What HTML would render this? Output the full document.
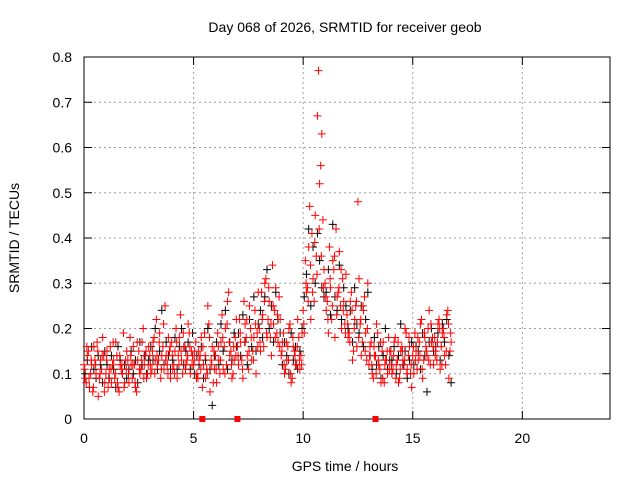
<!DOCTYPE html>
<html><head><meta charset="utf-8"><style>
body{margin:0;background:#fff;}
svg{display:block;font-family:"Liberation Sans",sans-serif;}
</style></head><body>
<svg id="chart" width="640" height="480">
<rect width="640" height="480" fill="#fff"/>
<g id="grid"></g>
<g id="axes"></g>
<g id="black"></g>
<g id="red"></g>
<text x="345" y="32" text-anchor="middle" font-size="14">Day 068 of 2026, SRMTID for receiver geob</text>
<text x="345" y="471" text-anchor="middle" font-size="14">GPS time / hours</text>
<text transform="translate(19,238) rotate(-90)" text-anchor="middle" font-size="14">SRMTID / TECUs</text>
</svg>
<script>
const xTicks=[0,5,10,15,20];
const yTicks=[0,0.1,0.2,0.3,0.4,0.5,0.6,0.7,0.8];
const yTickLabels=["0","0.1","0.2","0.3","0.4","0.5","0.6","0.7","0.8"];
const times=[0,0.1,0.2,0.3,0.4,0.5,0.6,0.7,0.8,0.9,1,1.1,1.2,1.3,1.4,1.5,1.6,1.7,1.8,1.9,2,2.1,2.2,2.3,2.4,2.5,2.6,2.7,2.8,2.9,3,3.1,3.2,3.3,3.4,3.5,3.6,3.7,3.8,3.9,4,4.1,4.2,4.3,4.4,4.5,4.6,4.7,4.8,4.9,5,5.1,5.2,5.3,5.4,5.5,5.6,5.7,5.8,5.9,6,6.1,6.2,6.3,6.4,6.5,6.6,6.7,6.8,6.9,7,7.1,7.2,7.3,7.4,7.5,7.6,7.7,7.8,7.9,8,8.1,8.2,8.3,8.4,8.5,8.6,8.7,8.8,8.9,9,9.1,9.2,9.3,9.4,9.5,9.6,9.7,9.8,9.9,10,10.1,10.2,10.3,10.4,10.5,10.6,10.7,10.8,10.9,11,11.1,11.2,11.3,11.4,11.5,11.6,11.7,11.8,11.9,12,12.1,12.2,12.3,12.4,12.5,12.6,12.7,12.8,12.9,13,13.1,13.2,13.3,13.4,13.5,13.6,13.7,13.8,13.9,14,14.1,14.2,14.3,14.4,14.5,14.6,14.7,14.8,14.9,15,15.1,15.2,15.3,15.4,15.5,15.6,15.7,15.8,15.9,16,16.1,16.2,16.3,16.4,16.5,16.6,16.7];
const redA=[.12,.08,.15,.10,.06,.13,.17,.09,.11,.14,.10,.07,.16,.12,.09,.14,.06,.11,.19,.13,.13,.18,.09,.12,.06,.15,.11,.20,.14,.10,.14,.11,.18,.22,.13,.09,.16,.25,.12,.15,.17,.12,.20,.14,.23,.10,.16,.13,.19,.15,.12,.17,.09,.14,.07,.19,.11,.21,.13,.08,.14,.19,.10,.23,.16,.12,.28,.15,.10,.18,.16,.22,.13,.26,.18,.11,.20,.15,.24,.19,.20,.28,.16,.31,.22,.18,.34,.24,.19,.27,.14,.19,.11,.16,.21,.09,.15,.12,.18,.14,.24,.35,.29,.47,.41,.26,.36,.77,.56,.44,.30,.26,.38,.22,.33,.42,.28,.25,.31,.21,.23,.19,.28,.15,.25,.48,.21,.17,.27,.13,.12,.17,.09,.14,.19,.11,.15,.08,.13,.18,.15,.11,.18,.13,.09,.16,.12,.19,.14,.10,.14,.19,.11,.17,.22,.13,.16,.20,.12,.18,.18,.13,.22,.16,.20,.12,.24,.15];
const redB=[.09,.14,.07,.12,.16,.10,.05,.13,.18,.08,.15,.11,.08,.13,.17,.07,.12,.10,.08,.15,.08,.12,.16,.07,.13,.10,.17,.12,.09,.16,.10,.17,.13,.12,.19,.14,.11,.14,.18,.09,.11,.15,.09,.18,.13,.16,.12,.21,.10,.14,.15,.10,.13,.18,.12,.09,.25,.06,.16,.11,.08,.13,.17,.11,.20,.26,.14,.09,.13,.22,.12,.17,.09,.21,.14,.25,.13,.18,.10,.28,.15,.23,.30,.18,.26,.14,.21,.29,.17,.22,.17,.10,.13,.20,.08,.16,.12,.22,.11,.19,.19,.28,.38,.22,.31,.45,.67,.52,.63,.33,.24,.19,.29,.35,.18,.27,.37,.20,.26,.32,.18,.26,.13,.22,.16,.31,.14,.24,.19,.30,.16,.10,.14,.21,.12,.08,.17,.13,.10,.15,.10,.17,.12,.08,.15,.13,.20,.11,.16,.07,.10,.15,.13,.21,.09,.18,.14,.24,.17,.12,.15,.21,.11,.19,.14,.23,.09,.17];
const redC=[.11,.16,.09,.13,.07,.12,.15,.10,.14,.06,.13,.09,.11,.17,.10,.08,.14,.12,.07,.11,.10,.14,.12,.08,.17,.11,.13,.09,.15,.12,.12,.15,.10,.14,.17,.11,.21,.13,.10,.16,.14,.10,.17,.12,.15,.19,.11,.14,.16,.12,.13,.09,.15,.11,.16,.14,.10,.18,.12,.15,.11,.16,.13,.18,.10,.21,.17,.12,.16,.14,.14,.19,.11,.17,.22,.15,.18,.13,.21,.16,.17,.22,.26,.19,.29,.21,.25,.18,.23,.16,.15,.12,.17,.13,.10,.18,.14,.16,.13,.12,.21,.30,.26,.34,.28,.39,.32,.42,.36,.29,.27,.22,.31,.25,.36,.23,.29,.33,.24,.19,.21,.17,.24,.20,.26,.18,.22,.25,.15,.20,.14,.12,.16,.10,.13,.17,.09,.12,.15,.11,.12,.14,.09,.17,.11,.15,.13,.10,.18,.12,.16,.13,.18,.14,.11,.19,.15,.13,.21,.16,.14,.17,.20,.12,.18,.15,.21,.19];
const blackA=[.10,.13,.07,.16,.11,.09,.14,.12,.08,.15,.12,.09,.14,.11,.07,.16,.13,.10,.12,.09,.11,.15,.10,.13,.08,.17,.12,.14,.10,.13,.16,.13,.20,.11,.15,.24,.12,.17,.14,.11,.13,.18,.11,.16,.20,.12,.15,.17,.11,.19,.10,.14,.12,.16,.09,.13,.20,.11,.03,.14,.17,.12,.21,.15,.24,.11,.17,.13,.19,.16,.19,.14,.23,.17,.12,.22,.16,.27,.15,.21,.24,.18,.27,.33,.20,.25,.17,.28,.22,.19,.12,.17,.14,.10,.19,.13,.16,.11,.15,.20,.27,.32,.42,.25,.38,.30,.41,.35,.29,.27,.28,.33,.23,.43,.27,.24,.34,.22,.29,.25,.20,.24,.17,.29,.21,.19,.25,.16,.22,.28,.14,.11,.18,.12,.16,.09,.14,.20,.11,.13,.13,.16,.10,.14,.21,.12,.15,.09,.13,.17,.12,.16,.15,.11,.19,.14,.06,.17,.20,.15,.16,.19,.13,.21,.17,.22,.14,.08];
const gapTimes=[5.4,7.0,13.3];

const X0=84,X1=610,Y0=419,Y1=57;
const xs=t=>X0+(X1-X0)*t/24;
const ys=v=>Y0-(Y0-Y1)*v/0.8;
const NS="http://www.w3.org/2000/svg";
function mk(tag,parent){const e=document.createElementNS(NS,tag);parent.appendChild(e);return e;}
const grid=document.getElementById('grid'),axes=document.getElementById('axes');
const frame=mk('rect',axes);
frame.setAttribute('x',X0);frame.setAttribute('y',Y1);frame.setAttribute('width',X1-X0);frame.setAttribute('height',Y0-Y1);
frame.setAttribute('fill','none');frame.setAttribute('stroke','#000');


xTicks.forEach(t=>{
  const x=xs(t);
  if(t>0){const g=mk('line',grid);g.setAttribute('x1',x);g.setAttribute('x2',x);g.setAttribute('y1',Y1);g.setAttribute('y2',Y0);g.setAttribute('stroke','#a0a0a0');g.setAttribute('stroke-dasharray','2,3');
  
  }
  [[Y0,Y0-8],[Y1,Y1+8]].forEach(p=>{const l=mk('line',axes);l.setAttribute('x1',x);l.setAttribute('x2',x);l.setAttribute('y1',p[0]);l.setAttribute('y2',p[1]);l.setAttribute('stroke','#000');
  
  });
  const tx=mk('text',axes);tx.setAttribute('x',x);tx.setAttribute('y',Y0+24);tx.setAttribute('text-anchor','middle');tx.setAttribute('font-size','14');tx.textContent=t;
  
  
});
yTicks.forEach((v,i)=>{
  const y=ys(v);
  if(v>0&&v<0.8){const g=mk('line',grid);g.setAttribute('x1',X0);g.setAttribute('x2',X1);g.setAttribute('y1',y);g.setAttribute('y2',y);g.setAttribute('stroke','#a0a0a0');g.setAttribute('stroke-dasharray','2,3');
  
  }
  [[X0,X0+8],[X1,X1-8]].forEach(p=>{const l=mk('line',axes);l.setAttribute('y1',y);l.setAttribute('y2',y);l.setAttribute('x1',p[0]);l.setAttribute('x2',p[1]);l.setAttribute('stroke','#000');
  
  });
  const tx=mk('text',axes);tx.setAttribute('x',X0-12);tx.setAttribute('y',y+5);tx.setAttribute('text-anchor','end');tx.setAttribute('font-size','14');tx.textContent=yTickLabels[i];
  
  
});
function plus(parent,t,v,color){
  const x=xs(t),y=ys(v);
  const p=mk('path',parent);
  p.setAttribute('d',`M${x-4},${y}h8M${x},${y-4}v8`);
  p.setAttribute('stroke',color);p.setAttribute('stroke-width','1');
  
  
}
const bG=document.getElementById('black'),rG=document.getElementById('red');
times.forEach((t,i)=>{plus(bG,t+0.05,blackA[i],'#000');});
times.forEach((t,i)=>{plus(rG,t,redA[i],'#f00');plus(rG,t+0.05,redB[i],'#f00');plus(rG,t+0.03,redC[i],'#f00');});
gapTimes.forEach(t=>{
  const r=mk('rect',rG);r.setAttribute('x',xs(t)-3);r.setAttribute('y',Y0-3);r.setAttribute('width',6);r.setAttribute('height',6);r.setAttribute('fill','#f00');
  
  
});
</script>
</body></html>
